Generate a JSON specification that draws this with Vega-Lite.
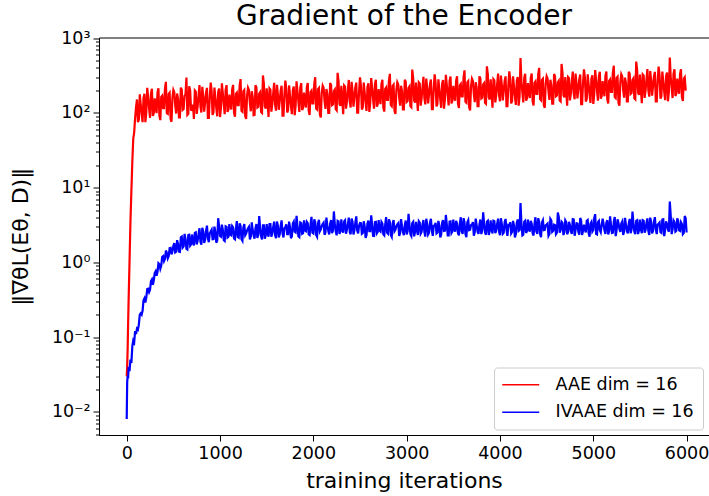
{
  "$schema": "https://vega.github.io/schema/vega-lite/v6.json",
  "width": 610,
  "height": 397.5,
  "autosize": {"type": "none"},
  "padding": {"left": 99, "top": 37.5, "right": 0, "bottom": 61},
  "background": "white",
  "config": {
    "font": "DejaVu Sans",
    "view": {"stroke": "black", "strokeWidth": 1},
    "axis": {"grid": false, "domainColor": "black", "tickColor": "black", "labelColor": "black", "titleColor": "black", "labelFont": "DejaVu Sans", "titleFont": "DejaVu Sans", "titleFontWeight": "normal", "labelFlush": false, "labelOverlap": false}
  },
  "title": {"text": "Gradient of the Encoder", "fontSize": 28, "fontWeight": "normal", "color": "black", "font": "DejaVu Sans", "offset": 0, "dy": 2},
  "data": {"values": [
{"x":0,"AAE":0.03,"IVAAE":0.008},{"x":5,"AAE":0.04,"IVAAE":0.025},{"x":10,"AAE":0.07,"IVAAE":0.03},{"x":15,"AAE":0.15,"IVAAE":0.028},{"x":20,"AAE":0.3,"IVAAE":0.04},{"x":30,"AAE":1.0,"IVAAE":0.035},{"x":40,"AAE":3.5,"IVAAE":0.05},{"x":50,"AAE":9,"IVAAE":0.045},{"x":60,"AAE":22,"IVAAE":0.075},{"x":70,"AAE":45,"IVAAE":0.09},{"x":80,"AAE":55,"IVAAE":0.085},{"x":90,"AAE":85,"IVAAE":0.12},{"x":100,"AAE":120,"IVAAE":0.11},
{"x":120,"AAE":75,"IVAAE":0.126},{"x":140,"AAE":177,"IVAAE":0.2},{"x":160,"AAE":96,"IVAAE":0.2},{"x":180,"AAE":159,"IVAAE":0.31},{"x":200,"AAE":75,"IVAAE":0.29},{"x":220,"AAE":216,"IVAAE":0.44},{"x":240,"AAE":115,"IVAAE":0.4},{"x":260,"AAE":181,"IVAAE":0.56},{"x":280,"AAE":91,"IVAAE":0.5},{"x":300,"AAE":157,"IVAAE":0.72},
{"x":320,"AAE":99,"IVAAE":0.66},{"x":340,"AAE":213,"IVAAE":0.97},{"x":360,"AAE":80,"IVAAE":0.82},{"x":380,"AAE":169,"IVAAE":1.18},{"x":400,"AAE":116,"IVAAE":1.04},{"x":420,"AAE":260,"IVAAE":1.44},{"x":440,"AAE":97,"IVAAE":1.13},{"x":460,"AAE":186,"IVAAE":1.55},{"x":480,"AAE":76,"IVAAE":1.28},{"x":500,"AAE":203,"IVAAE":1.67},
{"x":520,"AAE":126,"IVAAE":1.36},{"x":540,"AAE":182,"IVAAE":1.98},{"x":560,"AAE":87,"IVAAE":1.39},{"x":580,"AAE":218,"IVAAE":2.16},{"x":600,"AAE":110,"IVAAE":1.58},{"x":620,"AAE":169,"IVAAE":2.4},{"x":640,"AAE":298,"IVAAE":1.52},{"x":660,"AAE":97,"IVAAE":2.32},{"x":680,"AAE":199,"IVAAE":1.67},{"x":700,"AAE":114,"IVAAE":2.36},
{"x":720,"AAE":83,"IVAAE":1.68},{"x":740,"AAE":193,"IVAAE":2.52},{"x":760,"AAE":122,"IVAAE":1.94},{"x":780,"AAE":236,"IVAAE":2.86},{"x":800,"AAE":101,"IVAAE":1.72},{"x":820,"AAE":166,"IVAAE":2.59},{"x":840,"AAE":137,"IVAAE":2.0},{"x":860,"AAE":216,"IVAAE":3.1},{"x":880,"AAE":86,"IVAAE":1.86},{"x":900,"AAE":254,"IVAAE":2.59},
{"x":920,"AAE":94,"IVAAE":2.04},{"x":940,"AAE":218,"IVAAE":3.0},{"x":960,"AAE":116,"IVAAE":1.83},{"x":980,"AAE":189,"IVAAE":3.9},{"x":1000,"AAE":88,"IVAAE":2.26},{"x":1020,"AAE":248,"IVAAE":3.2},{"x":1040,"AAE":131,"IVAAE":1.98},{"x":1060,"AAE":204,"IVAAE":3.04},{"x":1080,"AAE":103,"IVAAE":2.15},{"x":1100,"AAE":176,"IVAAE":3.25},
{"x":1120,"AAE":111,"IVAAE":2.3},{"x":1140,"AAE":237,"IVAAE":2.93},{"x":1160,"AAE":89,"IVAAE":2.04},{"x":1180,"AAE":186,"IVAAE":3.57},{"x":1200,"AAE":127,"IVAAE":2.14},{"x":1220,"AAE":283,"IVAAE":3.06},{"x":1240,"AAE":104,"IVAAE":1.94},{"x":1260,"AAE":202,"IVAAE":3.26},{"x":1280,"AAE":83,"IVAAE":2.42},{"x":1300,"AAE":217,"IVAAE":2.86},
{"x":1320,"AAE":135,"IVAAE":2.03},{"x":1340,"AAE":195,"IVAAE":3.43},{"x":1360,"AAE":93,"IVAAE":2.29},{"x":1380,"AAE":234,"IVAAE":2.86},{"x":1400,"AAE":118,"IVAAE":2.13},{"x":1420,"AAE":181,"IVAAE":4.16},{"x":1440,"AAE":103,"IVAAE":2.24},{"x":1460,"AAE":317,"IVAAE":3.12},{"x":1480,"AAE":122,"IVAAE":2.08},{"x":1500,"AAE":213,"IVAAE":3.25},
{"x":1520,"AAE":88,"IVAAE":2.21},{"x":1540,"AAE":205,"IVAAE":3.24},{"x":1560,"AAE":130,"IVAAE":2.43},{"x":1580,"AAE":252,"IVAAE":3.51},{"x":1600,"AAE":107,"IVAAE":2.11},{"x":1620,"AAE":176,"IVAAE":3.1},{"x":1640,"AAE":145,"IVAAE":2.38},{"x":1660,"AAE":231,"IVAAE":3.65},{"x":1680,"AAE":92,"IVAAE":2.16},{"x":1700,"AAE":270,"IVAAE":2.97},
{"x":1720,"AAE":101,"IVAAE":2.38},{"x":1740,"AAE":233,"IVAAE":3.5},{"x":1760,"AAE":124,"IVAAE":2.1},{"x":1780,"AAE":202,"IVAAE":3.3},{"x":1800,"AAE":93,"IVAAE":2.58},{"x":1820,"AAE":264,"IVAAE":4.2},{"x":1840,"AAE":140,"IVAAE":2.24},{"x":1860,"AAE":218,"IVAAE":3.42},{"x":1880,"AAE":109,"IVAAE":2.41},{"x":1900,"AAE":187,"IVAAE":3.64},
{"x":1920,"AAE":118,"IVAAE":2.61},{"x":1940,"AAE":251,"IVAAE":3.34},{"x":1960,"AAE":94,"IVAAE":2.32},{"x":1980,"AAE":198,"IVAAE":4.06},{"x":2000,"AAE":134,"IVAAE":2.44},{"x":2020,"AAE":300,"IVAAE":3.48},{"x":2040,"AAE":111,"IVAAE":2.2},{"x":2060,"AAE":215,"IVAAE":3.71},{"x":2080,"AAE":87,"IVAAE":2.76},{"x":2100,"AAE":232,"IVAAE":3.25},
{"x":2120,"AAE":145,"IVAAE":2.34},{"x":2140,"AAE":209,"IVAAE":3.96},{"x":2160,"AAE":100,"IVAAE":2.64},{"x":2180,"AAE":251,"IVAAE":3.3},{"x":2200,"AAE":127,"IVAAE":2.46},{"x":2220,"AAE":196,"IVAAE":4.8},{"x":2240,"AAE":112,"IVAAE":2.58},{"x":2260,"AAE":344,"IVAAE":3.6},{"x":2280,"AAE":132,"IVAAE":2.4},{"x":2300,"AAE":231,"IVAAE":3.75},
{"x":2320,"AAE":96,"IVAAE":2.5},{"x":2340,"AAE":224,"IVAAE":3.66},{"x":2360,"AAE":142,"IVAAE":2.75},{"x":2380,"AAE":276,"IVAAE":3.97},{"x":2400,"AAE":118,"IVAAE":2.38},{"x":2420,"AAE":193,"IVAAE":3.51},{"x":2440,"AAE":160,"IVAAE":2.68},{"x":2460,"AAE":254,"IVAAE":4.12},{"x":2480,"AAE":101,"IVAAE":2.44},{"x":2500,"AAE":298,"IVAAE":3.36},
{"x":2520,"AAE":111,"IVAAE":2.41},{"x":2540,"AAE":255,"IVAAE":3.55},{"x":2560,"AAE":137,"IVAAE":2.12},{"x":2580,"AAE":222,"IVAAE":3.35},{"x":2600,"AAE":103,"IVAAE":2.61},{"x":2620,"AAE":292,"IVAAE":4.26},{"x":2640,"AAE":155,"IVAAE":2.27},{"x":2660,"AAE":242,"IVAAE":3.46},{"x":2680,"AAE":121,"IVAAE":2.44},{"x":2700,"AAE":208,"IVAAE":3.69},
{"x":2720,"AAE":131,"IVAAE":2.59},{"x":2740,"AAE":278,"IVAAE":3.31},{"x":2760,"AAE":104,"IVAAE":2.3},{"x":2780,"AAE":219,"IVAAE":4.03},{"x":2800,"AAE":149,"IVAAE":2.42},{"x":2820,"AAE":333,"IVAAE":3.46},{"x":2840,"AAE":123,"IVAAE":2.19},{"x":2860,"AAE":238,"IVAAE":3.69},{"x":2880,"AAE":97,"IVAAE":2.74},{"x":2900,"AAE":257,"IVAAE":3.22},
{"x":2920,"AAE":160,"IVAAE":2.25},{"x":2940,"AAE":231,"IVAAE":3.8},{"x":2960,"AAE":111,"IVAAE":2.54},{"x":2980,"AAE":277,"IVAAE":3.17},{"x":3000,"AAE":140,"IVAAE":2.36},{"x":3020,"AAE":216,"IVAAE":4.45},{"x":3040,"AAE":123,"IVAAE":2.39},{"x":3060,"AAE":380,"IVAAE":3.34},{"x":3080,"AAE":146,"IVAAE":2.23},{"x":3100,"AAE":255,"IVAAE":3.48},
{"x":3120,"AAE":106,"IVAAE":2.32},{"x":3140,"AAE":247,"IVAAE":3.39},{"x":3160,"AAE":156,"IVAAE":2.55},{"x":3180,"AAE":304,"IVAAE":3.68},{"x":3200,"AAE":130,"IVAAE":2.21},{"x":3220,"AAE":213,"IVAAE":3.25},{"x":3240,"AAE":177,"IVAAE":2.49},{"x":3260,"AAE":279,"IVAAE":3.82},{"x":3280,"AAE":112,"IVAAE":2.26},{"x":3300,"AAE":327,"IVAAE":3.11},
{"x":3320,"AAE":122,"IVAAE":2.44},{"x":3340,"AAE":282,"IVAAE":3.59},{"x":3360,"AAE":151,"IVAAE":2.16},{"x":3380,"AAE":246,"IVAAE":3.38},{"x":3400,"AAE":114,"IVAAE":2.64},{"x":3420,"AAE":323,"IVAAE":4.31},{"x":3440,"AAE":172,"IVAAE":2.3},{"x":3460,"AAE":267,"IVAAE":3.51},{"x":3480,"AAE":134,"IVAAE":2.47},{"x":3500,"AAE":230,"IVAAE":3.73},
{"x":3520,"AAE":145,"IVAAE":2.58},{"x":3540,"AAE":309,"IVAAE":3.31},{"x":3560,"AAE":116,"IVAAE":2.3},{"x":3580,"AAE":243,"IVAAE":4.02},{"x":3600,"AAE":166,"IVAAE":2.41},{"x":3620,"AAE":371,"IVAAE":3.45},{"x":3640,"AAE":137,"IVAAE":2.18},{"x":3660,"AAE":265,"IVAAE":3.67},{"x":3680,"AAE":108,"IVAAE":2.73},{"x":3700,"AAE":286,"IVAAE":3.22},
{"x":3720,"AAE":178,"IVAAE":2.27},{"x":3740,"AAE":257,"IVAAE":3.85},{"x":3760,"AAE":123,"IVAAE":2.57},{"x":3780,"AAE":308,"IVAAE":3.21},{"x":3800,"AAE":156,"IVAAE":2.39},{"x":3820,"AAE":240,"IVAAE":4.66},{"x":3840,"AAE":136,"IVAAE":2.51},{"x":3860,"AAE":420,"IVAAE":3.5},{"x":3880,"AAE":161,"IVAAE":2.33},{"x":3900,"AAE":281,"IVAAE":3.65},
{"x":3920,"AAE":117,"IVAAE":2.43},{"x":3940,"AAE":273,"IVAAE":3.55},{"x":3960,"AAE":173,"IVAAE":2.66},{"x":3980,"AAE":335,"IVAAE":3.85},{"x":4000,"AAE":143,"IVAAE":2.31},{"x":4020,"AAE":235,"IVAAE":3.25},{"x":4040,"AAE":194,"IVAAE":2.48},{"x":4060,"AAE":308,"IVAAE":3.81},{"x":4080,"AAE":123,"IVAAE":2.26},{"x":4100,"AAE":359,"IVAAE":3.1},
{"x":4120,"AAE":134,"IVAAE":2.43},{"x":4140,"AAE":309,"IVAAE":3.58},{"x":4160,"AAE":166,"IVAAE":2.15},{"x":4180,"AAE":269,"IVAAE":3.38},{"x":4200,"AAE":125,"IVAAE":2.63},{"x":4220,"AAE":541,"IVAAE":6.2},{"x":4240,"AAE":187,"IVAAE":2.29},{"x":4260,"AAE":293,"IVAAE":3.49},{"x":4280,"AAE":146,"IVAAE":2.47},{"x":4300,"AAE":251,"IVAAE":3.73},
{"x":4320,"AAE":158,"IVAAE":2.58},{"x":4340,"AAE":336,"IVAAE":3.3},{"x":4360,"AAE":126,"IVAAE":2.29},{"x":4380,"AAE":264,"IVAAE":4.01},{"x":4400,"AAE":179,"IVAAE":2.41},{"x":4420,"AAE":401,"IVAAE":3.44},{"x":4440,"AAE":148,"IVAAE":2.17},{"x":4460,"AAE":286,"IVAAE":3.67},{"x":4480,"AAE":117,"IVAAE":2.72},{"x":4500,"AAE":309,"IVAAE":3.2},
{"x":4520,"AAE":192,"IVAAE":2.27},{"x":4540,"AAE":277,"IVAAE":3.83},{"x":4560,"AAE":133,"IVAAE":2.56},{"x":4580,"AAE":332,"IVAAE":3.2},{"x":4600,"AAE":167,"IVAAE":2.38},{"x":4620,"AAE":257,"IVAAE":4.65},{"x":4640,"AAE":146,"IVAAE":2.5},{"x":4660,"AAE":452,"IVAAE":3.49},{"x":4680,"AAE":172,"IVAAE":2.32},{"x":4700,"AAE":301,"IVAAE":3.64},
{"x":4720,"AAE":125,"IVAAE":2.38},{"x":4740,"AAE":292,"IVAAE":3.49},{"x":4760,"AAE":184,"IVAAE":2.61},{"x":4780,"AAE":358,"IVAAE":3.78},{"x":4800,"AAE":152,"IVAAE":2.27},{"x":4820,"AAE":250,"IVAAE":3.34},{"x":4840,"AAE":206,"IVAAE":2.56},{"x":4860,"AAE":327,"IVAAE":3.93},{"x":4880,"AAE":131,"IVAAE":2.32},{"x":4900,"AAE":382,"IVAAE":3.2},
{"x":4920,"AAE":142,"IVAAE":2.51},{"x":4940,"AAE":329,"IVAAE":3.69},{"x":4960,"AAE":175,"IVAAE":2.21},{"x":4980,"AAE":286,"IVAAE":3.48},{"x":5000,"AAE":132,"IVAAE":2.71},{"x":5020,"AAE":374,"IVAAE":4.42},{"x":5040,"AAE":199,"IVAAE":2.36},{"x":5060,"AAE":309,"IVAAE":3.59},{"x":5080,"AAE":155,"IVAAE":2.53},{"x":5100,"AAE":266,"IVAAE":3.83},
{"x":5120,"AAE":167,"IVAAE":2.66},{"x":5140,"AAE":357,"IVAAE":3.39},{"x":5160,"AAE":134,"IVAAE":2.36},{"x":5180,"AAE":280,"IVAAE":4.13},{"x":5200,"AAE":191,"IVAAE":2.47},{"x":5220,"AAE":428,"IVAAE":3.54},{"x":5240,"AAE":158,"IVAAE":2.24},{"x":5260,"AAE":305,"IVAAE":3.77},{"x":5280,"AAE":125,"IVAAE":2.8},{"x":5300,"AAE":329,"IVAAE":3.3},
{"x":5320,"AAE":205,"IVAAE":2.33},{"x":5340,"AAE":296,"IVAAE":3.94},{"x":5360,"AAE":142,"IVAAE":2.63},{"x":5380,"AAE":355,"IVAAE":3.29},{"x":5400,"AAE":179,"IVAAE":2.45},{"x":5420,"AAE":276,"IVAAE":4.78},{"x":5440,"AAE":157,"IVAAE":2.57},{"x":5460,"AAE":485,"IVAAE":3.59},{"x":5480,"AAE":186,"IVAAE":2.39},{"x":5500,"AAE":325,"IVAAE":3.74},
{"x":5520,"AAE":135,"IVAAE":2.45},{"x":5540,"AAE":315,"IVAAE":3.59},{"x":5560,"AAE":199,"IVAAE":2.69},{"x":5580,"AAE":386,"IVAAE":3.88},{"x":5600,"AAE":165,"IVAAE":2.33},{"x":5620,"AAE":270,"IVAAE":3.44},{"x":5640,"AAE":224,"IVAAE":2.63},{"x":5660,"AAE":354,"IVAAE":4.03},{"x":5680,"AAE":142,"IVAAE":2.39},{"x":5700,"AAE":415,"IVAAE":3.29},
{"x":5720,"AAE":155,"IVAAE":2.54},{"x":5740,"AAE":357,"IVAAE":3.74},{"x":5760,"AAE":191,"IVAAE":2.24},{"x":5780,"AAE":311,"IVAAE":3.53},{"x":5800,"AAE":143,"IVAAE":2.75},{"x":5820,"AAE":552,"IVAAE":6.5},{"x":5840,"AAE":216,"IVAAE":2.39},{"x":5860,"AAE":336,"IVAAE":3.64},{"x":5880,"AAE":168,"IVAAE":2.57},{"x":5900,"AAE":288,"IVAAE":3.88},
{"x":5920,"AAE":180,"IVAAE":2.69},{"x":5940,"AAE":384,"IVAAE":3.44},{"x":5960,"AAE":144,"IVAAE":2.39},{"x":5980,"AAE":300,"IVAAE":4.18},{"x":6000,"AAE":204,"IVAAE":2.51},
{"x":110,"AAE":151,"IVAAE":0.13},{"x":130,"AAE":81,"IVAAE":0.147},{"x":150,"AAE":130,"IVAAE":0.208},{"x":170,"AAE":75,"IVAAE":0.225},{"x":190,"AAE":180,"IVAAE":0.33},{"x":210,"AAE":102,"IVAAE":0.34},{"x":230,"AAE":161,"IVAAE":0.445},{"x":250,"AAE":86,"IVAAE":0.43},{"x":270,"AAE":210,"IVAAE":0.59},{"x":290,"AAE":99,"IVAAE":0.57},
{"x":310,"AAE":120,"IVAAE":0.76},{"x":330,"AAE":188,"IVAAE":0.74},{"x":350,"AAE":92,"IVAAE":0.94},{"x":370,"AAE":163,"IVAAE":0.9},{"x":390,"AAE":116,"IVAAE":1.21},{"x":410,"AAE":212,"IVAAE":1.11},{"x":430,"AAE":99,"IVAAE":1.34},{"x":450,"AAE":179,"IVAAE":1.21},{"x":470,"AAE":83,"IVAAE":1.56},{"x":490,"AAE":161,"IVAAE":1.4},
{"x":510,"AAE":189,"IVAAE":1.81},{"x":530,"AAE":98,"IVAAE":1.39},{"x":550,"AAE":154,"IVAAE":1.76},{"x":570,"AAE":87,"IVAAE":1.38},{"x":590,"AAE":204,"IVAAE":2.21},{"x":610,"AAE":113,"IVAAE":1.64},{"x":630,"AAE":178,"IVAAE":2.06},{"x":650,"AAE":94,"IVAAE":1.49},{"x":670,"AAE":227,"IVAAE":2.34},{"x":690,"AAE":107,"IVAAE":1.74},
{"x":710,"AAE":129,"IVAAE":1.86},{"x":730,"AAE":200,"IVAAE":2.48},{"x":750,"AAE":97,"IVAAE":1.74},{"x":770,"AAE":172,"IVAAE":2.39},{"x":790,"AAE":122,"IVAAE":1.89},{"x":810,"AAE":223,"IVAAE":2.9},{"x":830,"AAE":104,"IVAAE":1.82},{"x":850,"AAE":187,"IVAAE":2.63},{"x":870,"AAE":86,"IVAAE":2.08},{"x":890,"AAE":167,"IVAAE":2.45},
{"x":910,"AAE":196,"IVAAE":2.73},{"x":930,"AAE":102,"IVAAE":2.05},{"x":950,"AAE":160,"IVAAE":2.55},{"x":970,"AAE":90,"IVAAE":1.96},{"x":990,"AAE":212,"IVAAE":3.06},{"x":1010,"AAE":117,"IVAAE":2.21},{"x":1030,"AAE":183,"IVAAE":2.72},{"x":1050,"AAE":96,"IVAAE":1.93},{"x":1070,"AAE":235,"IVAAE":2.99},{"x":1090,"AAE":110,"IVAAE":2.2},
{"x":1110,"AAE":133,"IVAAE":2.35},{"x":1130,"AAE":207,"IVAAE":3.06},{"x":1150,"AAE":101,"IVAAE":2.09},{"x":1170,"AAE":179,"IVAAE":2.81},{"x":1190,"AAE":127,"IVAAE":2.19},{"x":1210,"AAE":231,"IVAAE":3.32},{"x":1230,"AAE":107,"IVAAE":2.04},{"x":1250,"AAE":195,"IVAAE":2.93},{"x":1270,"AAE":90,"IVAAE":2.3},{"x":1290,"AAE":173,"IVAAE":2.68},
{"x":1310,"AAE":203,"IVAAE":2.99},{"x":1330,"AAE":105,"IVAAE":2.21},{"x":1350,"AAE":165,"IVAAE":2.73},{"x":1370,"AAE":94,"IVAAE":2.08},{"x":1390,"AAE":219,"IVAAE":3.25},{"x":1410,"AAE":121,"IVAAE":2.34},{"x":1430,"AAE":189,"IVAAE":2.86},{"x":1450,"AAE":100,"IVAAE":2.03},{"x":1470,"AAE":243,"IVAAE":3.12},{"x":1490,"AAE":114,"IVAAE":2.29},
{"x":1510,"AAE":137,"IVAAE":2.48},{"x":1530,"AAE":213,"IVAAE":3.24},{"x":1550,"AAE":104,"IVAAE":2.21},{"x":1570,"AAE":184,"IVAAE":2.97},{"x":1590,"AAE":130,"IVAAE":2.32},{"x":1610,"AAE":237,"IVAAE":3.51},{"x":1630,"AAE":110,"IVAAE":2.16},{"x":1650,"AAE":200,"IVAAE":3.1},{"x":1670,"AAE":92,"IVAAE":2.43},{"x":1690,"AAE":177,"IVAAE":2.84},
{"x":1710,"AAE":209,"IVAAE":3.22},{"x":1730,"AAE":109,"IVAAE":2.38},{"x":1750,"AAE":171,"IVAAE":2.94},{"x":1770,"AAE":96,"IVAAE":2.24},{"x":1790,"AAE":225,"IVAAE":3.5},{"x":1810,"AAE":124,"IVAAE":2.52},{"x":1830,"AAE":195,"IVAAE":3.08},{"x":1850,"AAE":103,"IVAAE":2.18},{"x":1870,"AAE":250,"IVAAE":3.36},{"x":1890,"AAE":117,"IVAAE":2.46},
{"x":1910,"AAE":141,"IVAAE":2.67},{"x":1930,"AAE":220,"IVAAE":3.48},{"x":1950,"AAE":107,"IVAAE":2.38},{"x":1970,"AAE":190,"IVAAE":3.19},{"x":1990,"AAE":134,"IVAAE":2.49},{"x":2010,"AAE":245,"IVAAE":3.77},{"x":2030,"AAE":114,"IVAAE":2.32},{"x":2050,"AAE":207,"IVAAE":3.34},{"x":2070,"AAE":95,"IVAAE":2.61},{"x":2090,"AAE":184,"IVAAE":3.05},
{"x":2110,"AAE":217,"IVAAE":3.39},{"x":2130,"AAE":113,"IVAAE":2.51},{"x":2150,"AAE":178,"IVAAE":3.1},{"x":2170,"AAE":100,"IVAAE":2.36},{"x":2190,"AAE":236,"IVAAE":3.69},{"x":2210,"AAE":130,"IVAAE":2.66},{"x":2230,"AAE":205,"IVAAE":3.25},{"x":2250,"AAE":108,"IVAAE":2.3},{"x":2270,"AAE":264,"IVAAE":3.54},{"x":2290,"AAE":124,"IVAAE":2.6},
{"x":2310,"AAE":149,"IVAAE":2.71},{"x":2330,"AAE":232,"IVAAE":3.54},{"x":2350,"AAE":114,"IVAAE":2.42},{"x":2370,"AAE":200,"IVAAE":3.25},{"x":2390,"AAE":143,"IVAAE":2.54},{"x":2410,"AAE":260,"IVAAE":3.84},{"x":2430,"AAE":121,"IVAAE":2.36},{"x":2450,"AAE":220,"IVAAE":3.39},{"x":2470,"AAE":101,"IVAAE":2.66},{"x":2490,"AAE":194,"IVAAE":3.1},
{"x":2510,"AAE":230,"IVAAE":3.34},{"x":2530,"AAE":119,"IVAAE":2.47},{"x":2550,"AAE":188,"IVAAE":3.05},{"x":2570,"AAE":106,"IVAAE":2.32},{"x":2590,"AAE":249,"IVAAE":3.63},{"x":2610,"AAE":138,"IVAAE":2.61},{"x":2630,"AAE":215,"IVAAE":3.19},{"x":2650,"AAE":114,"IVAAE":2.26},{"x":2670,"AAE":277,"IVAAE":3.48},{"x":2690,"AAE":130,"IVAAE":2.55},
{"x":2710,"AAE":157,"IVAAE":2.67},{"x":2730,"AAE":244,"IVAAE":3.48},{"x":2750,"AAE":118,"IVAAE":2.38},{"x":2770,"AAE":210,"IVAAE":3.19},{"x":2790,"AAE":149,"IVAAE":2.49},{"x":2810,"AAE":271,"IVAAE":3.77},{"x":2830,"AAE":127,"IVAAE":2.32},{"x":2850,"AAE":229,"IVAAE":3.34},{"x":2870,"AAE":106,"IVAAE":2.61},{"x":2890,"AAE":204,"IVAAE":3.05},
{"x":2910,"AAE":240,"IVAAE":3.34},{"x":2930,"AAE":125,"IVAAE":2.47},{"x":2950,"AAE":197,"IVAAE":3.05},{"x":2970,"AAE":111,"IVAAE":2.32},{"x":2990,"AAE":261,"IVAAE":3.63},{"x":3010,"AAE":144,"IVAAE":2.61},{"x":3030,"AAE":226,"IVAAE":3.19},{"x":3050,"AAE":119,"IVAAE":2.26},{"x":3070,"AAE":291,"IVAAE":3.48},{"x":3090,"AAE":137,"IVAAE":2.55},
{"x":3110,"AAE":165,"IVAAE":2.71},{"x":3130,"AAE":256,"IVAAE":3.54},{"x":3150,"AAE":125,"IVAAE":2.42},{"x":3170,"AAE":221,"IVAAE":3.25},{"x":3190,"AAE":157,"IVAAE":2.54},{"x":3210,"AAE":287,"IVAAE":3.84},{"x":3230,"AAE":134,"IVAAE":2.36},{"x":3250,"AAE":242,"IVAAE":3.39},{"x":3270,"AAE":112,"IVAAE":2.66},{"x":3290,"AAE":215,"IVAAE":3.1},
{"x":3310,"AAE":254,"IVAAE":3.39},{"x":3330,"AAE":132,"IVAAE":2.51},{"x":3350,"AAE":208,"IVAAE":3.1},{"x":3370,"AAE":117,"IVAAE":2.36},{"x":3390,"AAE":276,"IVAAE":3.69},{"x":3410,"AAE":152,"IVAAE":2.66},{"x":3430,"AAE":239,"IVAAE":3.25},{"x":3450,"AAE":126,"IVAAE":2.3},{"x":3470,"AAE":307,"IVAAE":3.54},{"x":3490,"AAE":144,"IVAAE":2.6},
{"x":3510,"AAE":174,"IVAAE":2.76},{"x":3530,"AAE":270,"IVAAE":3.6},{"x":3550,"AAE":132,"IVAAE":2.46},{"x":3570,"AAE":233,"IVAAE":3.3},{"x":3590,"AAE":166,"IVAAE":2.58},{"x":3610,"AAE":302,"IVAAE":3.9},{"x":3630,"AAE":141,"IVAAE":2.4},{"x":3650,"AAE":255,"IVAAE":3.45},{"x":3670,"AAE":118,"IVAAE":2.7},{"x":3690,"AAE":227,"IVAAE":3.15},
{"x":3710,"AAE":267,"IVAAE":3.45},{"x":3730,"AAE":139,"IVAAE":2.55},{"x":3750,"AAE":219,"IVAAE":3.15},{"x":3770,"AAE":123,"IVAAE":2.4},{"x":3790,"AAE":290,"IVAAE":3.75},{"x":3810,"AAE":160,"IVAAE":2.7},{"x":3830,"AAE":250,"IVAAE":3.3},{"x":3850,"AAE":132,"IVAAE":2.34},{"x":3870,"AAE":322,"IVAAE":3.6},{"x":3890,"AAE":151,"IVAAE":2.64},
{"x":3910,"AAE":182,"IVAAE":2.76},{"x":3930,"AAE":283,"IVAAE":3.6},{"x":3950,"AAE":138,"IVAAE":2.46},{"x":3970,"AAE":244,"IVAAE":3.3},{"x":3990,"AAE":173,"IVAAE":2.58},{"x":4010,"AAE":316,"IVAAE":3.9},{"x":4030,"AAE":147,"IVAAE":2.4},{"x":4050,"AAE":267,"IVAAE":3.45},{"x":4070,"AAE":123,"IVAAE":2.7},{"x":4090,"AAE":236,"IVAAE":3.15},
{"x":4110,"AAE":278,"IVAAE":3.45},{"x":4130,"AAE":144,"IVAAE":2.55},{"x":4150,"AAE":228,"IVAAE":3.15},{"x":4170,"AAE":128,"IVAAE":2.4},{"x":4190,"AAE":302,"IVAAE":3.75},{"x":4210,"AAE":166,"IVAAE":2.7},{"x":4230,"AAE":260,"IVAAE":3.3},{"x":4250,"AAE":138,"IVAAE":2.34},{"x":4270,"AAE":334,"IVAAE":3.6},{"x":4290,"AAE":157,"IVAAE":2.64},
{"x":4310,"AAE":189,"IVAAE":2.76},{"x":4330,"AAE":294,"IVAAE":3.6},{"x":4350,"AAE":143,"IVAAE":2.46},{"x":4370,"AAE":253,"IVAAE":3.3},{"x":4390,"AAE":179,"IVAAE":2.58},{"x":4410,"AAE":327,"IVAAE":3.9},{"x":4430,"AAE":153,"IVAAE":2.4},{"x":4450,"AAE":276,"IVAAE":3.45},{"x":4470,"AAE":127,"IVAAE":2.7},{"x":4490,"AAE":245,"IVAAE":3.15},
{"x":4510,"AAE":288,"IVAAE":3.3},{"x":4530,"AAE":149,"IVAAE":2.4},{"x":4550,"AAE":235,"IVAAE":3.66},{"x":4570,"AAE":133,"IVAAE":2.64},{"x":4590,"AAE":310,"IVAAE":3.15},{"x":4610,"AAE":171,"IVAAE":2.49},{"x":4630,"AAE":269,"IVAAE":4.05},{"x":4650,"AAE":142,"IVAAE":2.7},{"x":4670,"AAE":344,"IVAAE":3.36},{"x":4690,"AAE":161,"IVAAE":2.55},
{"x":4710,"AAE":194,"IVAAE":3.45},{"x":4730,"AAE":302,"IVAAE":2.55},{"x":4750,"AAE":147,"IVAAE":3.15},{"x":4770,"AAE":260,"IVAAE":2.4},{"x":4790,"AAE":184,"IVAAE":3.75},{"x":4810,"AAE":336,"IVAAE":2.7},{"x":4830,"AAE":156,"IVAAE":3.3},{"x":4850,"AAE":283,"IVAAE":2.34},{"x":4870,"AAE":131,"IVAAE":3.6},{"x":4890,"AAE":251,"IVAAE":2.64},
{"x":4910,"AAE":296,"IVAAE":2.76},{"x":4930,"AAE":153,"IVAAE":3.6},{"x":4950,"AAE":241,"IVAAE":2.46},{"x":4970,"AAE":136,"IVAAE":3.3},{"x":4990,"AAE":319,"IVAAE":2.58},{"x":5010,"AAE":176,"IVAAE":3.9},{"x":5030,"AAE":276,"IVAAE":2.4},{"x":5050,"AAE":146,"IVAAE":3.45},{"x":5070,"AAE":355,"IVAAE":2.7},{"x":5090,"AAE":167,"IVAAE":3.15},
{"x":5110,"AAE":201,"IVAAE":3.3},{"x":5130,"AAE":312,"IVAAE":2.4},{"x":5150,"AAE":152,"IVAAE":3.66},{"x":5170,"AAE":269,"IVAAE":2.64},{"x":5190,"AAE":191,"IVAAE":3.15},{"x":5210,"AAE":349,"IVAAE":2.49},{"x":5230,"AAE":163,"IVAAE":4.05},{"x":5250,"AAE":294,"IVAAE":2.7},{"x":5270,"AAE":136,"IVAAE":3.36},{"x":5290,"AAE":261,"IVAAE":2.55},
{"x":5310,"AAE":308,"IVAAE":3.51},{"x":5330,"AAE":160,"IVAAE":2.59},{"x":5350,"AAE":252,"IVAAE":3.2},{"x":5370,"AAE":142,"IVAAE":2.44},{"x":5390,"AAE":334,"IVAAE":3.81},{"x":5410,"AAE":184,"IVAAE":2.75},{"x":5430,"AAE":289,"IVAAE":3.36},{"x":5450,"AAE":152,"IVAAE":2.38},{"x":5470,"AAE":371,"IVAAE":3.66},{"x":5490,"AAE":174,"IVAAE":2.68},
{"x":5510,"AAE":210,"IVAAE":2.81},{"x":5530,"AAE":326,"IVAAE":3.66},{"x":5550,"AAE":159,"IVAAE":2.5},{"x":5570,"AAE":281,"IVAAE":3.36},{"x":5590,"AAE":200,"IVAAE":2.62},{"x":5610,"AAE":364,"IVAAE":3.97},{"x":5630,"AAE":170,"IVAAE":2.44},{"x":5650,"AAE":307,"IVAAE":3.51},{"x":5670,"AAE":142,"IVAAE":2.75},{"x":5690,"AAE":273,"IVAAE":3.2},
{"x":5710,"AAE":321,"IVAAE":3.41},{"x":5730,"AAE":167,"IVAAE":2.48},{"x":5750,"AAE":263,"IVAAE":3.78},{"x":5770,"AAE":148,"IVAAE":2.73},{"x":5790,"AAE":347,"IVAAE":3.26},{"x":5810,"AAE":192,"IVAAE":2.57},{"x":5830,"AAE":300,"IVAAE":4.19},{"x":5850,"AAE":158,"IVAAE":2.79},{"x":5870,"AAE":384,"IVAAE":3.47},{"x":5890,"AAE":180,"IVAAE":2.64},
{"x":5910,"AAE":216,"IVAAE":3.57},{"x":5930,"AAE":336,"IVAAE":2.64},{"x":5950,"AAE":163,"IVAAE":3.26},{"x":5970,"AAE":288,"IVAAE":2.48},{"x":5990,"AAE":204,"IVAAE":3.88}
  ]},
  "transform": [{"fold": ["AAE", "IVAAE"], "as": ["series", "value"]}],
  "mark": {"type": "line", "strokeWidth": 2.2, "clip": true},
  "encoding": {
    "x": {
      "field": "x", "type": "quantitative",
      "scale": {"domain": [-297, 6240], "nice": false, "zero": false},
      "axis": {"values": [0, 1000, 2000, 3000, 4000, 5000, 6000], "format": "d", "tickSize": 6, "labelFontSize": 17.5, "labelPadding": 3, "title": "training iterations", "titleFontSize": 22, "titlePadding": 9}
    },
    "y": {
      "field": "value", "type": "quantitative",
      "scale": {"type": "log", "domain": [0.0049, 1020], "nice": false},
      "axis": {
        "values": [0.005, 0.006, 0.007, 0.008, 0.009, 0.01, 0.02, 0.03, 0.04, 0.05, 0.06, 0.07, 0.08, 0.09, 0.1, 0.2, 0.3, 0.4, 0.5, 0.6, 0.7, 0.8, 0.9, 1, 2, 3, 4, 5, 6, 7, 8, 9, 10, 20, 30, 40, 50, 60, 70, 80, 90, 100, 200, 300, 400, 500, 600, 700, 800, 900, 1000],
        "labelExpr": "datum.value == 1000 ? '10³' : datum.value == 100 ? '10²' : datum.value == 10 ? '10¹' : datum.value == 1 ? '10⁰' : datum.value == 0.1 ? '10⁻¹' : datum.value == 0.01 ? '10⁻²' : ''",
        "tickSize": {"condition": {"test": "datum.value == 1000 || datum.value == 100 || datum.value == 10 || datum.value == 1 || datum.value == 0.1 || datum.value == 0.01", "value": 6}, "value": 3.5},
        "labelFontSize": 17.5, "labelPadding": 3,
        "title": "‖∇θL(Eθ,  D)‖", "titleFontSize": 22, "titleX": -67, "titleY": 198.75, "titleAngle": -90, "titleBaseline": "bottom", "titleAlign": "center"
      }
    },
    "color": {
      "field": "series", "type": "nominal",
      "scale": {"domain": ["AAE", "IVAAE"], "range": ["#ff0000", "#0000ff"]},
      "legend": {"title": null, "orient": "bottom-right", "offset": 6, "labelExpr": "datum.label + ' dim = 16'", "symbolType": "M-1.2,0H3.73", "symbolSize": 225, "symbolStrokeWidth": 1.5, "labelFontSize": 17.5, "labelFont": "DejaVu Sans", "labelColor": "black", "labelOffset": 35.5, "rowPadding": 8.5, "padding": 8.5, "strokeColor": "#cccccc", "fillColor": "rgba(255,255,255,0.8)", "cornerRadius": 3}
    }
  }
}
